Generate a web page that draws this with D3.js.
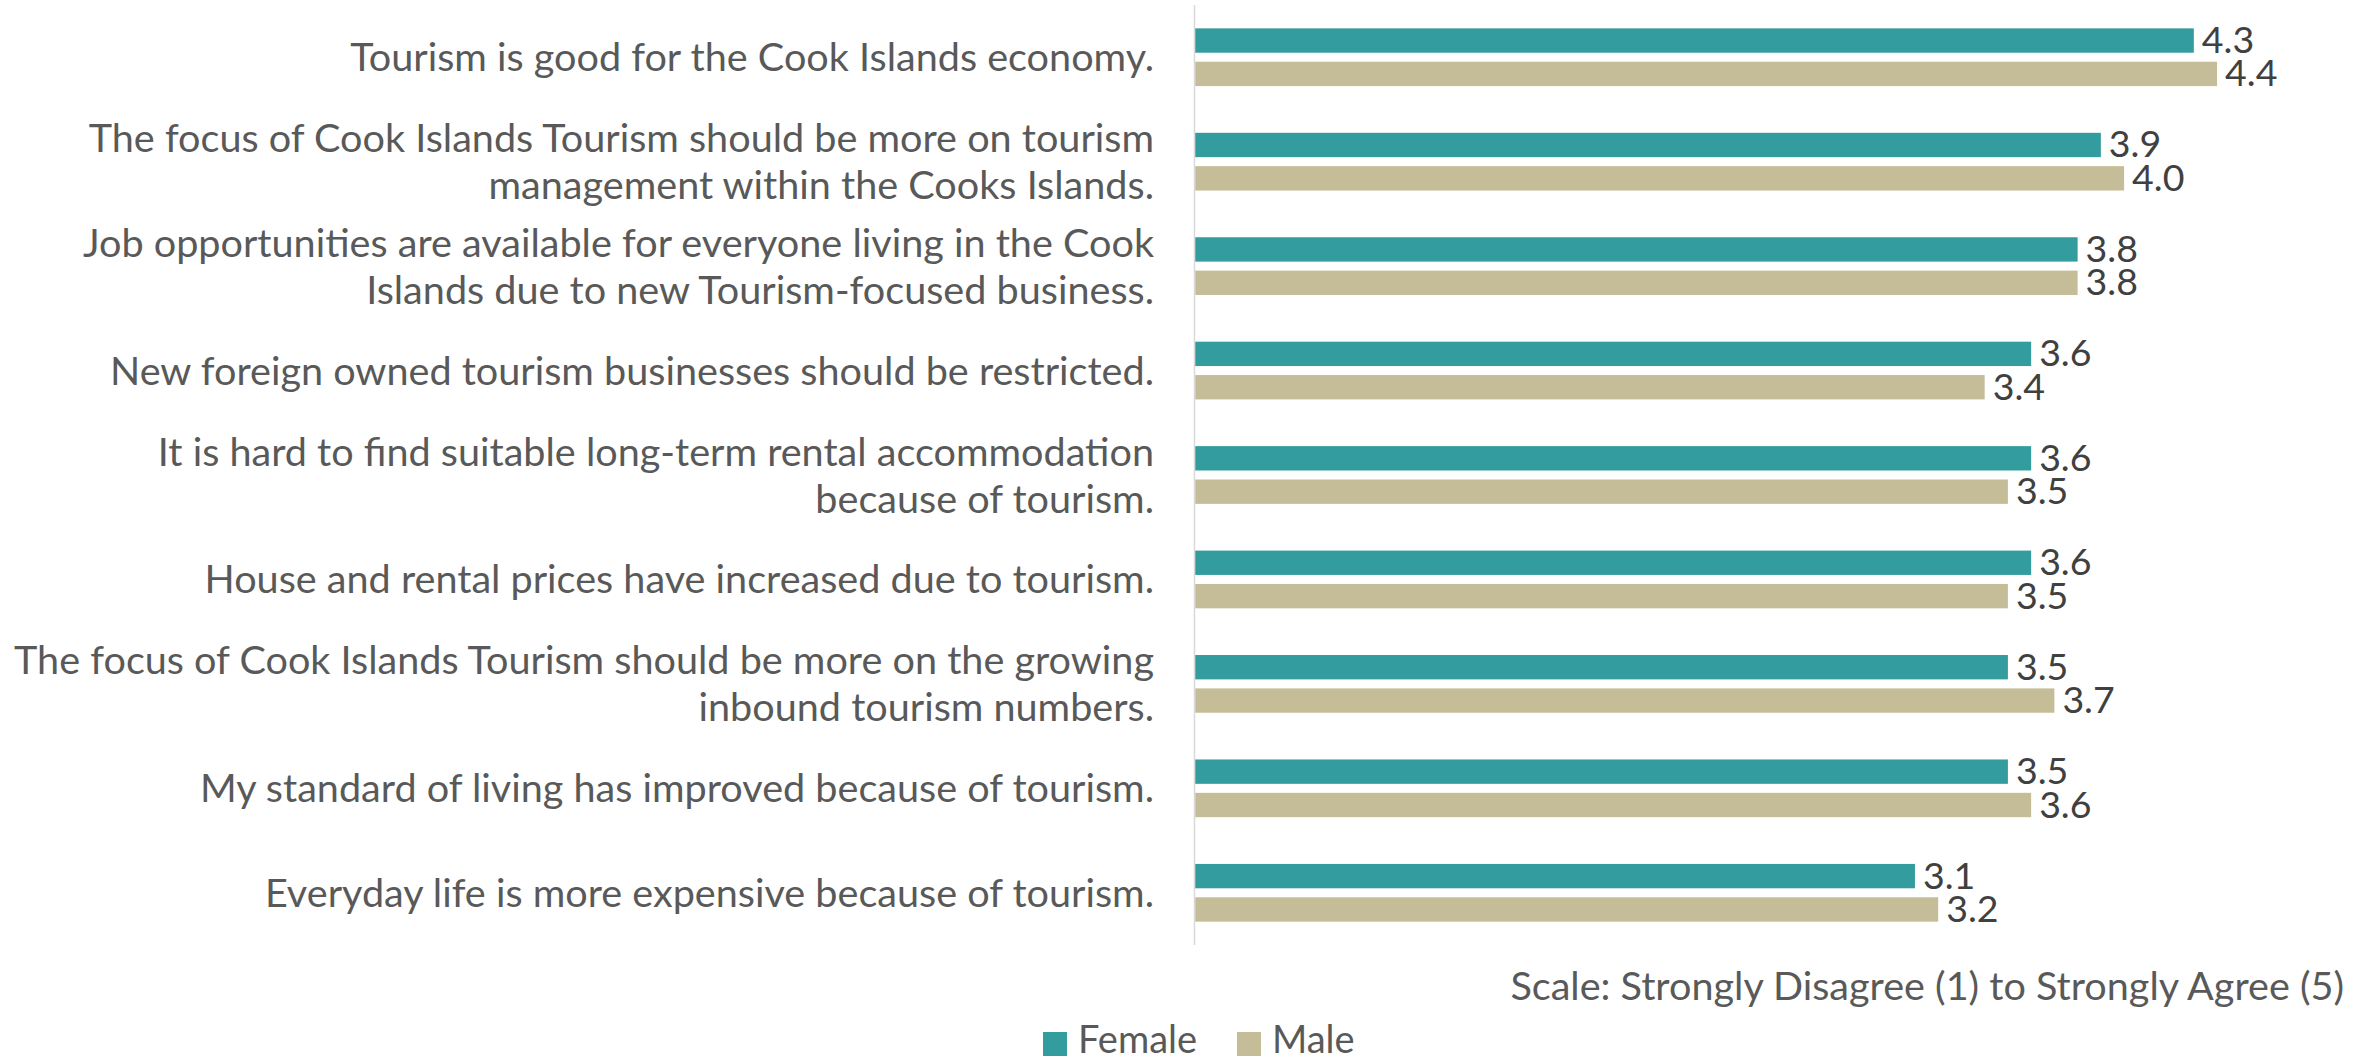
<!DOCTYPE html>
<html>
<head>
<meta charset="utf-8">
<script src="https://cdn.jsdelivr.net/npm/d3@7"></script>
<style>
  html, body { margin: 0; padding: 0; background: #ffffff; }
  svg { display: block; }
  text { font-family: Lato, "Open Sans", sans-serif; }
</style>
</head>
<body>
<svg id="chart" width="2374" height="1063"></svg>
<script>
// Survey statements (line breaks mark where each label wraps)
const categories = [
  "Tourism is good for the Cook Islands economy.",
  "The focus of Cook Islands Tourism should be more on tourism\nmanagement within the Cooks Islands.",
  "Job opportunities are available for everyone living in the Cook\nIslands due to new Tourism-focused business.",
  "New foreign owned tourism businesses should be restricted.",
  "It is hard to find suitable long-term rental accommodation\nbecause of tourism.",
  "House and rental prices have increased due to tourism.",
  "The focus of Cook Islands Tourism should be more on the growing\ninbound tourism numbers.",
  "My standard of living has improved because of tourism.",
  "Everyday life is more expensive because of tourism."
];

const seriesNames = ["Female", "Male"];
const femaleValues = [4.3, 3.9, 3.8, 3.6, 3.6, 3.6, 3.5, 3.5, 3.1];
const maleValues   = [4.4, 4.0, 3.8, 3.4, 3.5, 3.5, 3.7, 3.6, 3.2];
const seriesColors = ["#339c9e", "#c5bd98"];
const scaleNote = "Scale: Strongly Disagree (1) to Strongly Agree (5)";

const rows = categories.map((c, i) => ({
  category: c,
  values: [
    { series: "Female", value: femaleValues[i] },
    { series: "Male", value: maleValues[i] }
  ]
}));

const svg = d3.select("#chart");

const x = d3.scaleLinear().domain([0, 5]).range([1194.5, 2356.5]);
const y = d3.scaleBand().domain(categories).range([5, 945]).paddingInner(0).paddingOuter(0);
const y1 = d3.scaleBand().domain(seriesNames).range([0, y.bandwidth()])
  .paddingInner(0.27).paddingOuter(0.70);
const color = d3.scaleOrdinal().domain(seriesNames).range(seriesColors);

// Category axis (vertical line at zero)
svg.append("line")
  .attr("x1", x(0)).attr("x2", x(0))
  .attr("y1", y.range()[0]).attr("y2", y.range()[1])
  .attr("stroke", "#d9d9d9").attr("stroke-width", 1.5);

// Bar groups
const groups = svg.selectAll("g.row")
  .data(rows)
  .join("g")
  .attr("class", "row")
  .attr("transform", d => `translate(0,${y(d.category)})`);

groups.selectAll("rect")
  .data(d => d.values)
  .join("rect")
  .attr("x", x(0) + 0.75)
  .attr("y", d => y1(d.series))
  .attr("width", d => x(d.value) - x(0) - 0.75)
  .attr("height", y1.bandwidth())
  .attr("fill", d => color(d.series));

// Value labels
groups.selectAll("text.val")
  .data(d => d.values)
  .join("text")
  .attr("class", "val")
  .attr("x", d => x(d.value) + 8)
  .attr("y", d => y1(d.series) + y1.bandwidth() / 2 + 3)
  .attr("dominant-baseline", "middle")
  .attr("font-size", 37.5)
  .attr("fill", "#404040")
  .text(d => d.value.toFixed(1));

// Category labels, right aligned and centred on each band
const lineHeight = 47;
svg.selectAll("text.cat")
  .data(categories)
  .join("text")
  .attr("class", "cat")
  .attr("text-anchor", "end")
  .attr("font-size", 39.6)
  .attr("fill", "#595959")
  .each(function(d) {
    const lines = d.split("\n");
    const cy = y(d) + y.bandwidth() / 2 + 4;
    const t = d3.select(this);
    lines.forEach((ln, i) => {
      t.append("tspan")
        .attr("x", 1154)
        .attr("y", cy + (i - (lines.length - 1) / 2) * lineHeight)
        .attr("dominant-baseline", "middle")
        .text(ln);
    });
  });

// Scale note
svg.append("text")
  .attr("x", 2344)
  .attr("y", 990)
  .attr("text-anchor", "end")
  .attr("dominant-baseline", "middle")
  .attr("font-size", 39.6)
  .attr("fill", "#595959")
  .text(scaleNote);

// Legend
const legendItems = [
  { name: "Female", sx: 1043, tx: 1078 },
  { name: "Male", sx: 1237, tx: 1272 }
];
const legend = svg.append("g").attr("class", "legend");
legend.selectAll("rect")
  .data(legendItems)
  .join("rect")
  .attr("x", d => d.sx)
  .attr("y", 1032)
  .attr("width", 24)
  .attr("height", 24)
  .attr("fill", d => color(d.name));
legend.selectAll("text")
  .data(legendItems)
  .join("text")
  .attr("x", d => d.tx)
  .attr("y", 1043)
  .attr("dominant-baseline", "middle")
  .attr("font-size", 38)
  .attr("fill", "#595959")
  .text(d => d.name);
</script>
</body>
</html>
